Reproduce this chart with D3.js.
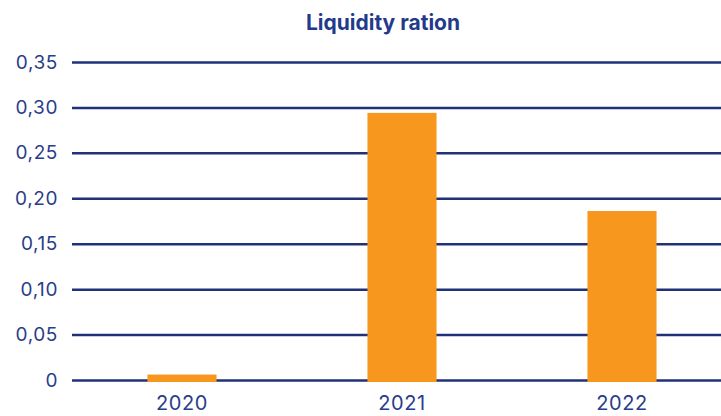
<!DOCTYPE html>
<html><head><meta charset="utf-8">
<script src="https://cdn.jsdelivr.net/npm/d3@7"></script>
<style>body{margin:0;background:#fff}svg{display:block}text{font-family:Inter,"Open Sans",sans-serif}</style>
</head><body><svg id="c" width="721" height="416"></svg>
<script>
const categories = ["2020", "2021", "2022"];
const values = [0.006, 0.294, 0.186];
const yTicks = [0, 0.05, 0.10, 0.15, 0.20, 0.25, 0.30, 0.35];
const title = "Liquidity ration";

const svg = d3.select("#c");
const navy = "#1f3279", labelColor = "#2a3d8a", orange = "#f7971e";
const x = d3.scaleBand().domain(categories).range([72, 732]).paddingInner(0.686).paddingOuter(0.343);
const y = d3.scaleLinear().domain([0, 0.35]).range([380, 62]);

svg.append("text").attr("x", 383).attr("y", 30).attr("text-anchor", "middle")
  .attr("font-size", 21).attr("font-weight", 700).attr("fill", "#233a8b").text(title);

const fmt = v => v === 0 ? "0" : d3.format(".2f")(v).replace(".", ",");
const yAxis = svg.append("g").attr("transform", "translate(72,0)")
  .call(d3.axisLeft(y).tickValues(yTicks).tickFormat(fmt).tickSize(-649).tickPadding(14));
yAxis.select(".domain").remove();
yAxis.selectAll("line").attr("stroke", navy).attr("stroke-width", 2.5);
yAxis.selectAll("text").attr("font-size", 19).attr("letter-spacing", 0.6).attr("fill", labelColor).attr("font-family", "Inter, sans-serif");

svg.append("g").selectAll("rect").data(values).join("rect")
  .attr("x", (d, i) => x(categories[i])).attr("width", x.bandwidth())
  .attr("y", d => y(d)).attr("height", d => y(0) - y(d) + 2)
  .attr("fill", orange);

const xAxis = svg.append("g").attr("transform", "translate(0,380)")
  .call(d3.axisBottom(x).tickSize(0).tickPadding(16));
xAxis.select(".domain").remove();
xAxis.selectAll("text").attr("font-size", 20).attr("letter-spacing", 0.6).attr("fill", labelColor).attr("font-family", "Inter, sans-serif");
</script></body></html>
